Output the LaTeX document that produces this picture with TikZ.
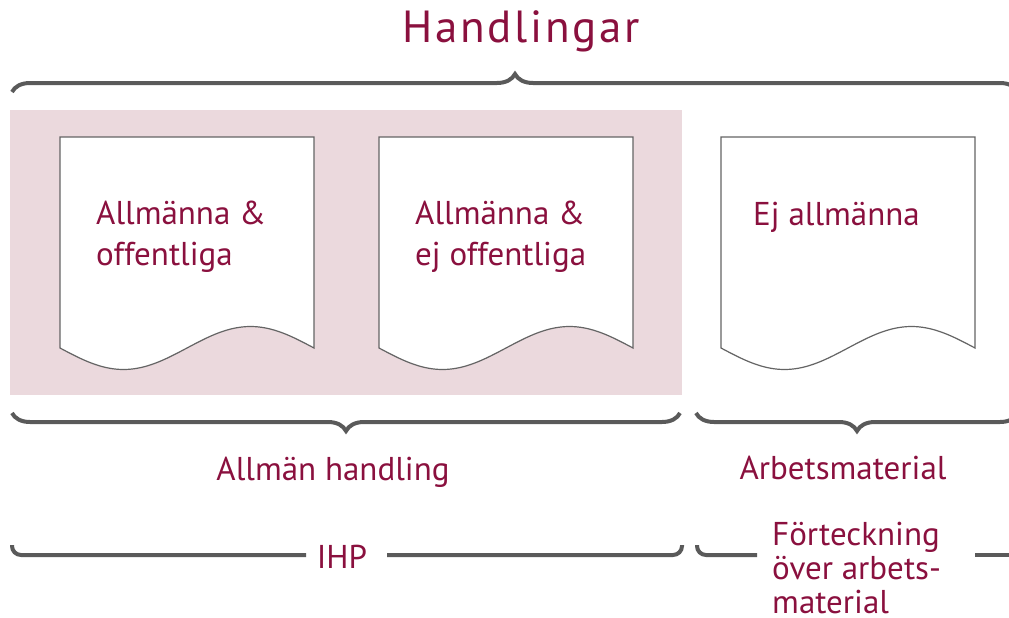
\documentclass[tikz,border=0pt]{standalone}
\usepackage{fontspec}
\setmainfont{PT Sans}
\usetikzlibrary{decorations.pathreplacing,positioning}

\definecolor{wine}{RGB}{138,16,62}
\definecolor{rosa}{RGB}{235,217,221}
\definecolor{bracegray}{RGB}{90,90,90}
\definecolor{docgray}{RGB}{100,100,100}

\begin{document}
\begin{tikzpicture}[
    x=1pt, y=-1pt,
    txt/.style={text=wine, font=\fontsize{33}{41}\selectfont, inner sep=0pt},
    doctext/.style={txt, align=left, anchor=west},
    bracket/.style={draw=bracegray, line width=4pt},
    curly/.style={bracket, decorate, decoration={brace, amplitude=18pt}},
    doc/.pic={
        \draw[docgray, line width=1.2pt, fill=white]
            (0,211) -- (0,0) -- (254,0) -- (254,211)
            sin (190.5,189.5) cos (127,211) sin (63.5,232.5) cos (0,211) -- cycle;
    }
]
    \useasboundingbox (0,0) rectangle (1009,618);
    \clip (0,0) rectangle (1009,618);

    % title and the brace over everything
    \node[txt, font=\fontsize{45}{50}\selectfont, anchor=base] (title) at (521,43)
        {\addfontfeature{LetterSpace=6}Handlingar};
    \draw[curly] (12,92) -- (1018,92);

    % allman handling background
    \fill[rosa] (10,110) rectangle (682,395);

    % documents
    \pic at (60,137) {doc};
    \pic at (379,137) {doc};
    \pic at (721,137) {doc};

    \node[doctext] (pubopen) at (96,237) {Allmänna \&\\offentliga};
    \node[doctext] (pubsecret) at (415,237) {Allmänna \&\\ej offentliga};
    \node[txt, anchor=base west] (notpub) at (753,225) {Ej allmänna};

    % braces under the documents
    \draw[curly] (680,413) -- (12,413);
    \draw[curly] (1018,413) -- (696,413);
    \node[txt, anchor=base] (allman) at (333,480) {Allmän handling};
    \node[txt, anchor=base] (arbets) at (843,479) {Arbetsmaterial};

    % bottom row
    \node[txt, anchor=base] (ihp) at (342,568) {IHP};
    \node[txt, align=left, font=\fontsize{33}{34}\selectfont, anchor=north west]
        (forteck) at (772,522) {Förteckning\\över arbets-\\material};

    \coordinate (ihpL) at (306,555);
    \coordinate (ihpR) at (387,555);
    \coordinate (fL) at (757,555);
    \coordinate (fR) at (975,555);

    \draw[bracket, rounded corners=9pt] (12,545) |- (ihpL);
    \draw[bracket, rounded corners=9pt] (ihpR) -| (682,545);
    \draw[bracket, rounded corners=9pt] (697,545) |- (fL);
    \draw[bracket] (fR) -- (1015,555);
\end{tikzpicture}
\end{document}
